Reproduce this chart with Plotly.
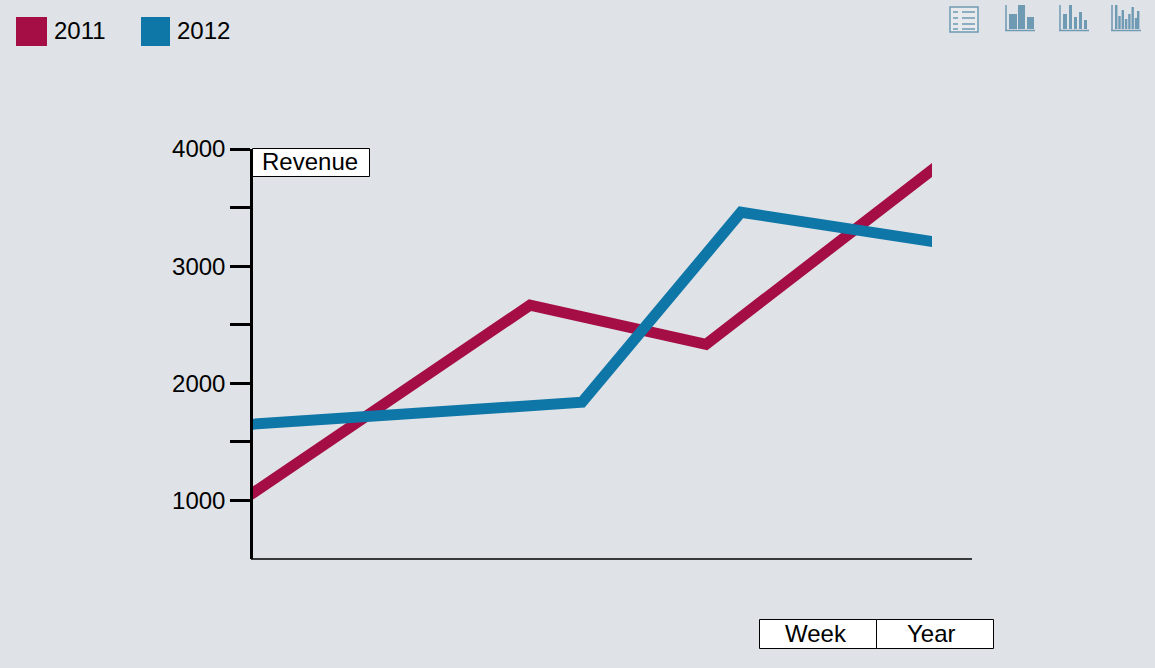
import plotly.graph_objects as go

W, H = 1155, 668
L, R, T, B = 253, 932, 149, 559

BG = "#dfe2e6"
RED = "#a50d45"
BLUE = "#0f76a8"
ICON = "#6f9ab3"
FONT = "Liberation Sans"

series_names = ["2011", "2012"]
x_2011 = [-10, 278, 454, 690]
y_2011 = [1000, 2667, 2333, 3886]
x_2012 = [-10, 330, 489, 690]
y_2012 = [1645, 1838, 3460, 3197]

y_tick_values = [1000, 1500, 2000, 2500, 3000, 3500, 4000]
y_tick_labels = ["1000", "", "2000", "", "3000", "", "4000"]


def px(x):
    return (x - L) / (R - L)


def py(y):
    return (B - y) / (B - T)


def rect(x0, y0, x1, y1, fill, line=None, lw=1):
    return dict(type="rect", xref="paper", yref="paper",
                x0=px(x0), x1=px(x1), y0=py(y1), y1=py(y0),
                fillcolor=fill, layer="above",
                line=dict(color=line or fill, width=lw if line else 0))


def hline(x0, x1, y, color=ICON, lw=1.5):
    return dict(type="line", xref="paper", yref="paper",
                x0=px(x0), x1=px(x1), y0=py(y), y1=py(y),
                layer="above", line=dict(color=color, width=lw))


def vline(x, y0, y1, color=ICON, lw=1.5):
    return dict(type="line", xref="paper", yref="paper",
                x0=px(x), x1=px(x), y0=py(y0), y1=py(y1),
                layer="above", line=dict(color=color, width=lw))


def label(x, y, text, anchor="center"):
    return dict(xref="paper", yref="paper", x=px(x), y=py(y), text=text,
                showarrow=False, xanchor=anchor, yanchor="middle",
                font=dict(family=FONT, size=24, color="#000000"))


shapes = [
    rect(16, 17, 47, 46, RED),
    rect(141, 17, 170, 46, BLUE),
    rect(252.5, 148.5, 369.5, 176.5, "#ffffff", "#000000", 1),
    rect(759.5, 619.5, 876.5, 648.5, "#ffffff", "#000000", 1),
    rect(876.5, 619.5, 993.5, 648.5, "#ffffff", "#000000", 1),
    hline(251, 972, 559, "#000000", 1.5),
]

# list icon
shapes.append(rect(950, 7, 978, 32, "rgba(255,255,255,0.25)", ICON, 1.5))
for yy in (12, 18, 24, 29):
    shapes.append(hline(953, 958, yy))
    shapes.append(hline(962, 975, yy))

# bar icons
shapes += [vline(1006, 5, 31), hline(1005, 1035, 30.5)]
for x0, x1, top in [(1009, 1017, 14), (1018, 1025, 5), (1027, 1034, 17)]:
    shapes.append(rect(x0, top, x1, 29, ICON))

shapes += [vline(1060, 5, 31), hline(1059, 1089, 30.5)]
for x0, x1, top in [(1063, 1067, 14), (1069, 1072, 5), (1074, 1077, 17), (1079, 1082, 12), (1084, 1087, 20)]:
    shapes.append(rect(x0, top, x1, 29, ICON))

shapes += [vline(1112, 5, 31), hline(1111, 1141, 30.5)]
for x0, top in [(1115, 5), (1118.3, 16), (1121.6, 10), (1124.9, 19), (1128.2, 14), (1131.5, 7), (1134.8, 18), (1137, 11)]:
    shapes.append(rect(x0, top, x0 + 2.4, 29, ICON))

annotations = [
    label(52, 31, series_names[0], "left"),
    label(175, 31, series_names[1], "left"),
    label(310, 161, "Revenue"),
    label(816, 633, "Week"),
    label(931, 633, "Year"),
]

fig = go.Figure()
fig.add_trace(go.Scatter(x=x_2011, y=y_2011, name=series_names[0], mode="lines",
                         line=dict(color=RED, width=11)))
fig.add_trace(go.Scatter(x=x_2012, y=y_2012, name=series_names[1], mode="lines",
                         line=dict(color=BLUE, width=11)))

fig.update_layout(
    width=W, height=H,
    margin=dict(l=L, r=W - R, t=T, b=H - B, pad=0),
    paper_bgcolor=BG, plot_bgcolor=BG,
    showlegend=False,
    font=dict(family=FONT, size=24, color="#000000"),
    xaxis=dict(range=[1, 680], showgrid=False, zeroline=False,
               showticklabels=False, ticks="", showline=False, anchor="y"),
    yaxis=dict(range=[500, 4000], tickmode="array", tickvals=y_tick_values,
               ticktext=y_tick_labels, ticks="outside", ticklen=20, tickwidth=2.5,
               tickcolor="#000000", showgrid=False, zeroline=False, showline=True,
               linecolor="#000000", linewidth=2.5, anchor="x",
               tickfont=dict(family=FONT, size=24, color="#000000")),
    shapes=shapes,
    annotations=annotations,
)

fig.write_html("out.html", config=dict(displayModeBar=False),
               post_script="document.body.style.margin='0';")
